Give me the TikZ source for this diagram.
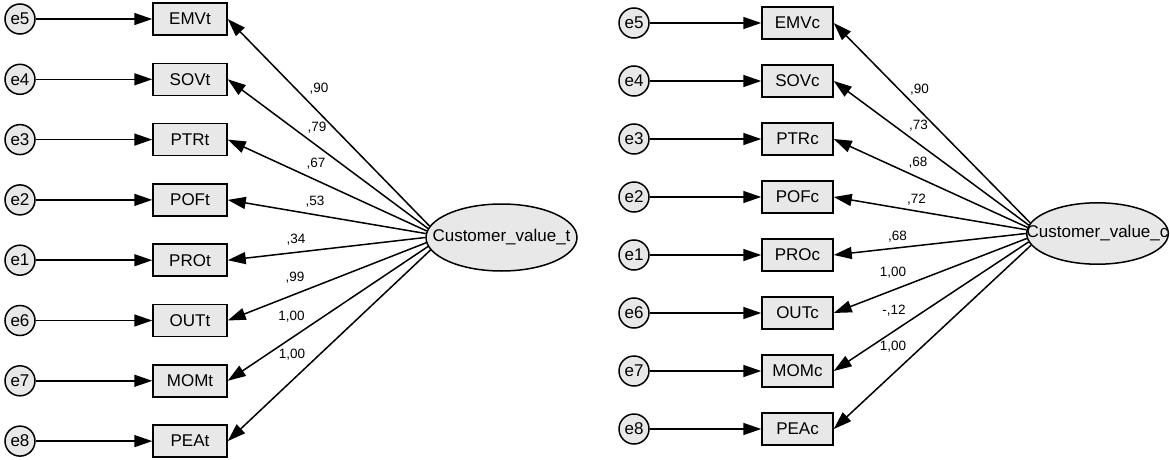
\documentclass[tikz,border=0pt]{standalone}
\usepackage{fontspec}
\setmainfont{Liberation Sans}
\usetikzlibrary{arrows.meta,shapes.geometric}
\definecolor{boxgray}{HTML}{E8E8E8}
\begin{document}
\begin{tikzpicture}[x=1pt,y=-1pt,
  lbl/.style={font=\fontsize{17}{19}\selectfont},
  obs/.style={lbl, draw=black, line width=1.5pt, fill=boxgray,
    minimum height=32pt, inner sep=0pt},
  err/.style={lbl, circle, draw=black, line width=1.5pt, fill=boxgray,
    minimum size=30pt, inner sep=0pt},
  lat/.style={lbl, ellipse, draw=black, line width=1.5pt, fill=boxgray,
    inner xsep=-40pt, inner ysep=0pt},
  link/.style={-{Triangle[length=18pt,width=12pt]}, line width=1.5pt},
  coef/.style={font=\fontsize{13.5}{15}\selectfont, inner sep=0pt}]
\useasboundingbox (0,0) rectangle (1170,460);

% ---------- model t ----------
\node[lat, minimum width=151pt, minimum height=67pt] (cvt) at (501.5,237.5) {Customer\_value\_t};
\foreach \k/\e/\b/\a in {0/e5/EMVt/171, 1/e4/SOVt/173, 2/e3/PTRt/175, 3/e2/POFt/177,
                         4/e1/PROt/180, 5/e6/OUTt/184, 6/e7/MOMt/187, 7/e8/PEAt/190} {
  \node[err] (t\e) at (20,19+60.3*\k) {\e};
  \node[obs, minimum width=74pt] (\b) at (190,19+60.3*\k) {\b};
  \draw[link] (t\e) -- (\b);
  \draw[link] (cvt.\a) -- (\b.east);
}
\node[coef] (ct1) at (319,89)  {,90};
\node[coef] (ct2) at (317,128) {,79};
\node[coef] (ct3) at (316,164) {,67};
\node[coef] (ct4) at (315,202) {,53};
\node[coef] (ct5) at (296,240) {,34};
\node[coef] (ct6) at (295,278) {,99};
\node[coef] (ct7) at (291.5,317) {1,00};
\node[coef] (ct8) at (292,355) {1,00};

% ---------- model c ----------
\node[lat, minimum width=141.6pt, minimum height=61.4pt] (cvc) at (1097.5,233.5) {Customer\_value\_c};
\foreach \k/\e/\b/\a in {0/e5/EMVc/171, 1/e4/SOVc/173, 2/e3/PTRc/175, 3/e2/POFc/177,
                         4/e1/PROc/180, 5/e6/OUTc/184, 6/e7/MOMc/187, 7/e8/PEAc/190} {
  \node[err] (c\e) at (634,23+58*\k) {\e};
  \node[obs, minimum width=71pt] (\b) at (797.5,23+58*\k) {\b};
  \draw[link] (c\e) -- (\b);
  \draw[link] (cvc.\a) -- (\b.east);
}
\node[coef] (cc1) at (919.5,89.5) {,90};
\node[coef] (cc2) at (918.5,126)  {,73};
\node[coef] (cc3) at (918,163)    {,68};
\node[coef] (cc4) at (916.5,199.5){,72};
\node[coef] (cc5) at (897.5,237)  {,68};
\node[coef] (cc6) at (893,273)    {1,00};
\node[coef] (cc7) at (894,311)    {-,12};
\node[coef] (cc8) at (893,347)    {1,00};
\end{tikzpicture}
\end{document}
